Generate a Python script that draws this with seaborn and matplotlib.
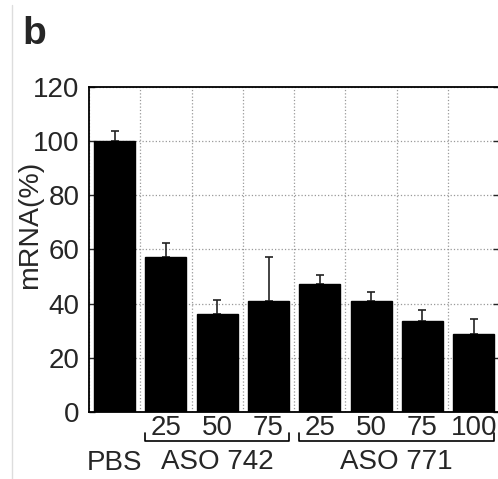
import numpy as np
import pandas as pd
import matplotlib
matplotlib.use("Agg")
import matplotlib.pyplot as plt
from matplotlib.lines import Line2D
from matplotlib.ticker import MultipleLocator
import seaborn as sns

# values
samples = ["PBS", "742-25", "742-50", "742-75", "771-25", "771-50", "771-75", "771-100"]
dose_labels = ["\nPBS", "25", "50", "75", "25", "50", "75", "100"]
mrna = [100, 57.3, 36.2, 41.1, 47.2, 41.1, 33.5, 28.9]
err_up = [3.8, 4.9, 5.2, 16.1, 3.2, 3.3, 4.1, 5.4]
groups = {"ASO 742": (1, 3), "ASO 771": (4, 7)}

sns.set_theme(style="ticks")
plt.rcParams["font.family"] = ["Liberation Sans", "DejaVu Sans"]

df = pd.DataFrame({"sample": samples, "mrna": mrna})

fig = plt.figure(figsize=(4.98, 4.79), dpi=100)
ax = fig.add_axes([0.1787, 0.140, 0.824, 0.6785])

sns.barplot(data=df, x="sample", y="mrna", order=samples, color="black",
            saturation=1, width=0.8, edgecolor="black", zorder=3, ax=ax)
ax.errorbar(np.arange(len(samples)), mrna, yerr=[np.zeros(len(mrna)), err_up],
            fmt="none", ecolor="#222222", elinewidth=1.2, capsize=3,
            capthick=1.2, zorder=2)

ax.set_xlim(-0.5, len(samples) - 0.5)
ax.set_ylim(0, 120)
ax.set_yticks(range(0, 121, 20))
ax.xaxis.set_minor_locator(MultipleLocator(1, offset=0.5))
ax.grid(axis="y", which="major", linestyle=":", color="#999999", lw=0.9, zorder=0)
ax.grid(axis="x", which="minor", linestyle=":", color="#999999", lw=0.9, zorder=0)
ax.set_axisbelow(True)

ax.set_xticks(range(len(samples)))
ax.set_xticklabels(dose_labels, fontsize=20, linespacing=1.45)
ax.tick_params(axis="x", which="both", length=0, pad=2)
ax.tick_params(axis="y", direction="in", length=4, right=True, labelsize=20,
               pad=7, width=1)
ax.set_xlabel("")
ax.set_ylabel("mRNA(%)", fontsize=20.5)
ax.yaxis.set_label_coords(-0.112, 0.575)

for sp in ax.spines.values():
    sp.set_visible(True)
    sp.set_color("black")
    sp.set_linewidth(1.3)

# group brackets under the dose labels
tr = ax.get_xaxis_transform()
for name, (a, b) in groups.items():
    x0, x1 = a - 0.4, b + 0.4
    ax.plot([x0, x0, x1, x1], [-0.065, -0.089, -0.089, -0.065], transform=tr,
            color="black", lw=1.2, clip_on=False)
    ax.text((a + b) / 2, -0.154, name, transform=tr, ha="center", va="center",
            fontsize=20)

fig.text(0.044, 0.908, "b", fontsize=28, fontweight="bold", ha="left",
         va="baseline")
fig.add_artist(Line2D([0.024, 0.024], [0, 0.99], color="#dddddd", lw=1))

fig.savefig("out.png", dpi=100)
